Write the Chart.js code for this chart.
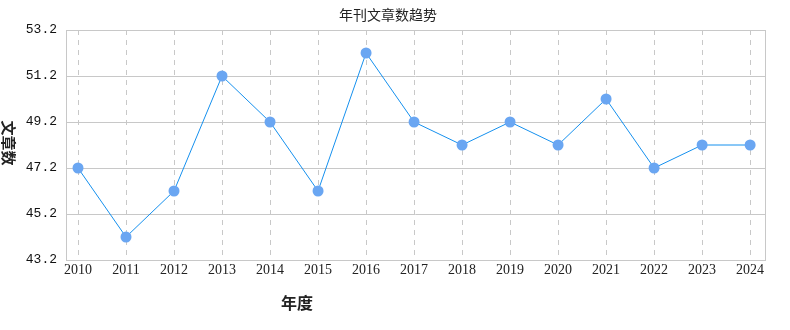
<!DOCTYPE html>
<html>
<head>
<meta charset="utf-8">
<script src="https://cdn.jsdelivr.net/npm/chart.js@4/dist/chart.umd.min.js"></script>
<style>
  html, body { margin: 0; padding: 0; background: #fff; }
  #wrap { width: 790px; height: 330px; }
</style>
</head>
<body>
<div id="wrap"><canvas id="chart" width="790" height="330"></canvas></div>
<script>
// data
const years = [2010, 2011, 2012, 2013, 2014, 2015, 2016, 2017, 2018, 2019, 2020, 2021, 2022, 2023, 2024];
const counts = [47.2, 44.2, 46.2, 51.2, 49.2, 46.2, 52.2, 49.2, 48.2, 49.2, 48.2, 50.2, 47.2, 48.2, 48.2];
const yTicks = [43.2, 45.2, 47.2, 49.2, 51.2, 53.2];

const chartTitle = "年刊文章数趋势";
const xTitle = "年度";
const yTitle = "文章数";

// titles and the frame round the plot
const decorPlugin = {
    id: "decor",
    afterDraw(chart) {
        const ctx = chart.ctx;
        const a = chart.chartArea;
        ctx.save();
        ctx.strokeStyle = "#c8c8c8";
        ctx.lineWidth = 1;
        ctx.strokeRect(Math.round(a.left) + 0.5, Math.round(a.top) + 0.5,
            Math.round(a.right - a.left), Math.round(a.bottom - a.top));

        ctx.fillStyle = "#222";
        ctx.textAlign = "center";
        ctx.textBaseline = "middle";
        ctx.font = "14px 'Noto Sans CJK SC'";
        ctx.fillText(chartTitle, 388, 15);

        ctx.font = "bold 16px 'Noto Sans CJK SC'";
        ctx.fillText(xTitle, 297, 303);

        ctx.font = "bold 15px 'Noto Sans CJK SC'";
        ctx.translate(9, 143);
        ctx.rotate(Math.PI / 2);
        ctx.fillText(yTitle, 0, 0);
        ctx.restore();
    }
};

new Chart(document.getElementById("chart"), {
    type: "line",
    data: {
        datasets: [{
            data: years.map((y, i) => ({ x: y, y: counts[i] })),
            borderColor: "#1590ee",
            borderWidth: 1,
            backgroundColor: "#6aa6f2",
            pointBackgroundColor: "#6aa6f2",
            pointBorderWidth: 0,
            pointRadius: 5.5,
            pointHoverRadius: 5.5,
            tension: 0
        }]
    },
    options: {
        responsive: false,
        animation: false,
        layout: { padding: { top: 30, right: 25, left: 0, bottom: 0 } },
        plugins: {
            legend: { display: false },
            title: { display: false },
            tooltip: { enabled: false }
        },
        scales: {
            x: {
                type: "linear",
                min: 2009.75,
                max: 2024.31,
                afterBuildTicks: (scale) => {
                    scale.ticks = years.map(v => ({ value: v }));
                },
                afterFit: (scale) => { scale.height = 70; },
                ticks: {
                    padding: 2,
                    color: "#222",
                    font: { family: "'Liberation Serif'", size: 14 },
                    callback: (v) => String(v),
                    maxRotation: 0,
                    autoSkip: false
                },
                grid: {
                    color: "#c8c8c8",
                    drawTicks: false,
                    lineWidth: 1
                },
                border: { display: false, dash: [5, 5] }
            },
            y: {
                min: 43.2,
                max: 53.2,
                afterBuildTicks: (scale) => {
                    scale.ticks = yTicks.map(v => ({ value: v }));
                },
                afterFit: (scale) => { scale.width = 66; },
                ticks: {
                    padding: 9,
                    color: "#111",
                    font: { family: "'Liberation Mono'", size: 13 },
                    callback: (v) => v.toFixed(1)
                },
                grid: {
                    color: "#c8c8c8",
                    drawTicks: false,
                    lineWidth: 1
                },
                border: { display: false }
            }
        }
    },
    plugins: [decorPlugin]
});
</script>
</body>
</html>
